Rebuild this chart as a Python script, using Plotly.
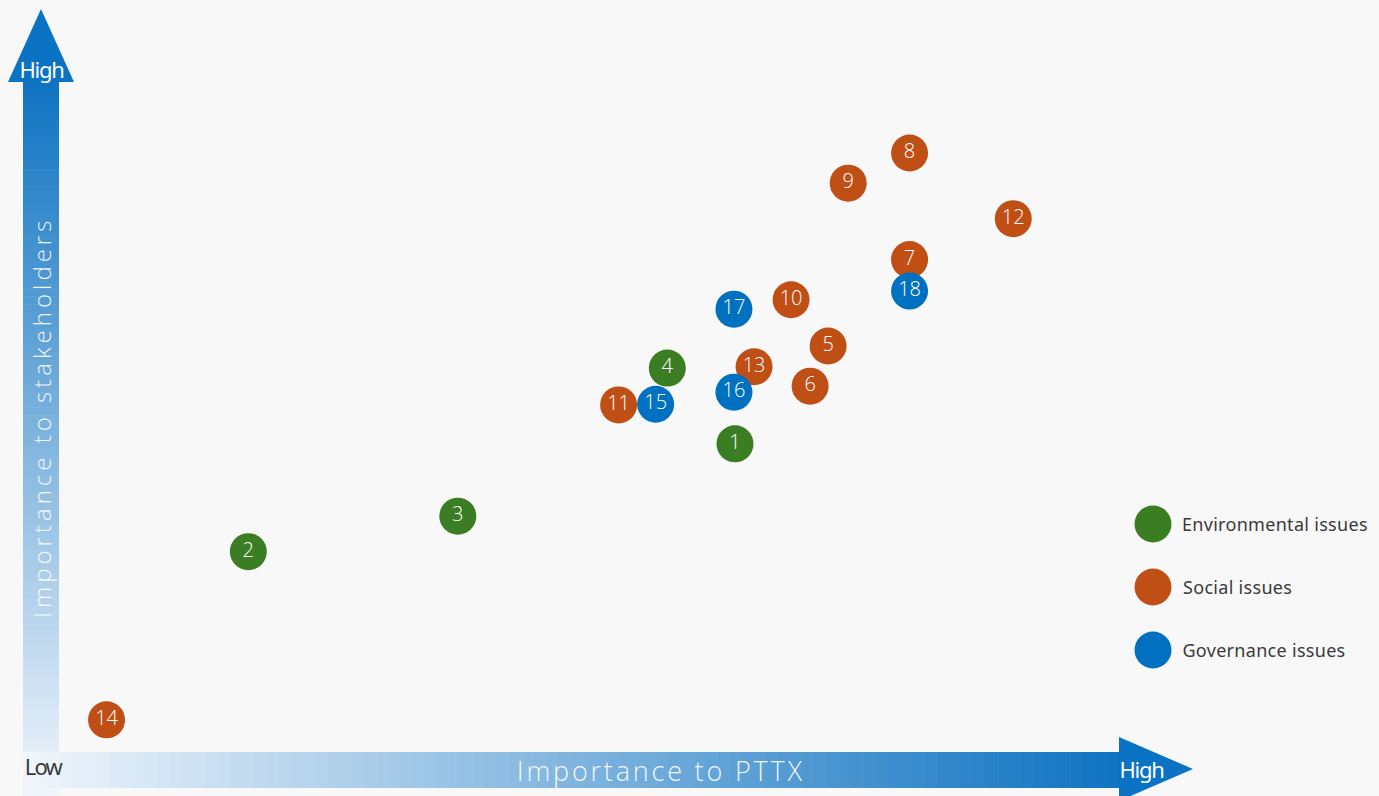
import plotly.graph_objects as go

# Materiality matrix: importance to PTTX (x) vs importance to stakeholders (y), 0-10 scale
env_ids = ["1", "2", "3", "4"]
env_x = [6.38, 1.78, 3.76, 5.74]
env_y = [4.60, 2.99, 3.52, 5.73]

soc_ids = ["5", "6", "7", "8", "9", "10", "11", "12", "13", "14"]
soc_x = [7.26, 7.09, 8.03, 8.03, 7.45, 6.91, 5.28, 9.01, 6.56, 0.44]
soc_y = [6.06, 5.46, 7.35, 8.94, 8.49, 6.75, 5.18, 7.96, 5.75, 0.48]

gov_ids = ["15", "16", "17", "18"]
gov_x = [5.63, 6.37, 6.37, 8.03]
gov_y = [5.19, 5.37, 6.61, 6.88]

group_names = ["Environmental issues", "Social issues", "Governance issues"]
group_colors = ["#3b7d23", "#c04f15", "#0070c0"]

W, H = 1379, 796
BG = "#f8f8f8"


def px(x):
    return x / W


def py(y):
    return 1 - y / H


def mix(c0, c1, t):
    return "rgb({},{},{})".format(*[round(a + (b - a) * t) for a, b in zip(c0, c1)])


DARK = (16, 116, 194)
LIGHT = (240, 245, 251)

fig = go.Figure()

for ids, xs, ys, name, color in zip(
    [env_ids, soc_ids, gov_ids],
    [env_x, soc_x, gov_x],
    [env_y, soc_y, gov_y],
    group_names,
    group_colors,
):
    fig.add_trace(
        go.Scatter(
            x=xs,
            y=ys,
            text=ids,
            name=name,
            mode="markers+text",
            marker=dict(size=37, color=color, line=dict(width=0)),
            textposition="middle center",
            textfont=dict(family="Open Sans", size=20, color="white", weight=300),
            showlegend=False,
            hoverinfo="text+name",
        )
    )

shapes = []

# Vertical gradient arrow (stakeholders)
n = 90
top, bottom = 82, 796
for i in range(n):
    y0 = top + (bottom - top) * i / n
    y1 = top + (bottom - top) * (i + 1) / n + 0.6
    shapes.append(dict(type="rect", xref="paper", yref="paper",
                       x0=px(23), x1=px(59), y0=py(y0), y1=py(y1),
                       fillcolor=mix(DARK, LIGHT, i / (n - 1)),
                       line=dict(width=0), layer="below"))
shapes.append(dict(type="path", xref="paper", yref="paper",
                   path=f"M {px(8)} {py(82)} L {px(41)} {py(9)} L {px(74)} {py(82)} Z",
                   fillcolor="#0b73c4", line=dict(width=0), layer="below"))

# Horizontal gradient arrow (PTTX)
left, right = 23, 1119
for i in range(n):
    x0 = left + (right - left) * i / n
    x1 = left + (right - left) * (i + 1) / n + 0.6
    shapes.append(dict(type="rect", xref="paper", yref="paper",
                       x0=px(x0), x1=px(x1), y0=py(752), y1=py(788),
                       fillcolor=mix(LIGHT, DARK, i / (n - 1)),
                       line=dict(width=0), layer="below"))
shapes.append(dict(type="path", xref="paper", yref="paper",
                   path=f"M {px(1119)} {py(737)} L {px(1193)} {py(769)} L {px(1119)} {py(801)} Z",
                   fillcolor="#0b73c4", line=dict(width=0), layer="below"))

# Legend swatches
legend_rows = [524, 587, 650]
r = 18.5
for yy, color in zip(legend_rows, group_colors):
    shapes.append(dict(type="circle", xref="paper", yref="paper",
                       x0=px(1153 - r), x1=px(1153 + r), y0=py(yy + r), y1=py(yy - r),
                       fillcolor=color, line=dict(width=0)))

annotations = []
for yy, name in zip(legend_rows, group_names):
    annotations.append(dict(xref="paper", yref="paper", x=px(1183), y=py(yy),
                            text=name, showarrow=False, xanchor="left", yanchor="middle",
                            font=dict(family="Noto Sans", size=18, color="#3a3a3a", weight=400)))

annotations += [
    dict(xref="paper", yref="paper", x=px(41), y=py(69), text="High", showarrow=False,
         xanchor="center", yanchor="middle",
         font=dict(family="Noto Sans", size=22, color="white", weight=400)),
    dict(xref="paper", yref="paper", x=px(1141), y=py(769), text="High", showarrow=False,
         xanchor="center", yanchor="middle",
         font=dict(family="Noto Sans", size=22, color="white", weight=400)),
    dict(xref="paper", yref="paper", x=px(43), y=py(766), text="Low", showarrow=False,
         xanchor="center", yanchor="middle",
         font=dict(family="Noto Sans", size=22, color="#3a3a3a", weight=400)),
    dict(xref="paper", yref="paper", x=px(661), y=py(770), text="Importance to PTTX",
         showarrow=False, xanchor="center", yanchor="middle",
         font=dict(family="Open Sans", size=27, color="rgba(255,255,255,0.92)", weight=300)),
    dict(xref="paper", yref="paper", x=px(41), y=py(418), text="Importance to stakeholders",
         showarrow=False, xanchor="center", yanchor="middle", textangle=-90,
         font=dict(family="Open Sans", size=24, color="rgba(255,255,255,0.92)", weight=300)),
]

fig.update_layout(
    width=W,
    height=H,
    margin=dict(l=0, r=0, t=0, b=0),
    paper_bgcolor=BG,
    plot_bgcolor=BG,
    shapes=shapes,
    annotations=annotations,
    xaxis=dict(domain=[px(60), px(1118)], range=[0, 10], visible=False,
               showgrid=False, zeroline=False),
    yaxis=dict(domain=[py(752), py(82)], range=[0, 10], visible=False,
               showgrid=False, zeroline=False),
    showlegend=False,
)

# Letter spacing for the captions (index into layout.annotations)
n_leg = len(group_names)
spacing = {0: 0.3, 1: 0.3, 2: 0.3,
           n_leg + 0: -1.2, n_leg + 1: -1.2, n_leg + 2: -1.8, n_leg + 3: 2.8, n_leg + 4: 4}
js_pairs = ",".join(f"[{k},{v}]" for k, v in spacing.items())
post_script = (
    "var gd=document.getElementById('{plot_id}');"
    f"[{js_pairs}].forEach(function(p){{"
    "var g=gd.querySelector('.annotation[data-index=\"'+p[0]+'\"] text.annotation-text');"
    "if(g){g.style.letterSpacing=p[1]+'px';}});"
)

fig.write_html("out.html", post_script=post_script)
